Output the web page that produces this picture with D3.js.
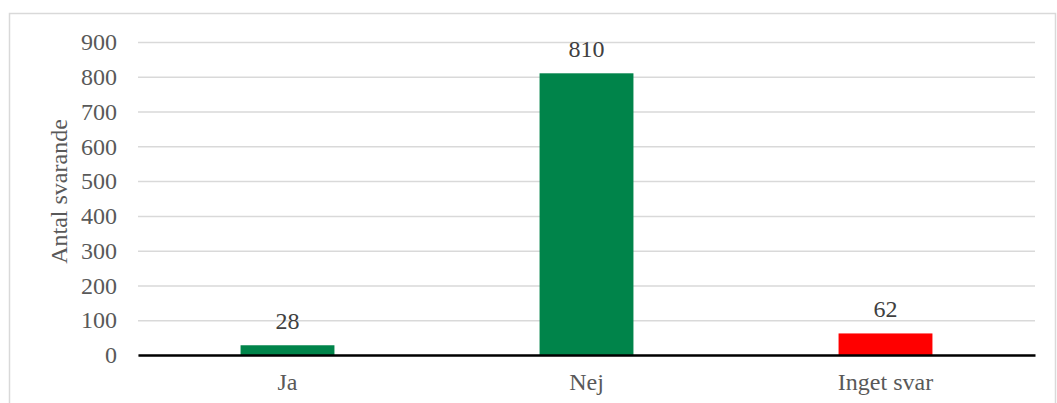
<!DOCTYPE html>
<html><head><meta charset="utf-8">
<script src="https://cdn.jsdelivr.net/npm/d3@7"></script>
<style>body{margin:0;background:#fff}svg{display:block}</style>
</head><body>
<script>
const categories = ["Ja", "Nej", "Inget svar"];
const values = [28, 810, 62];
const colors = ["#00844a", "#00844a", "#ff0000"];
const yTicks = [0, 100, 200, 300, 400, 500, 600, 700, 800, 900];
const yTitle = "Antal svarande";

const W = 1057, H = 403;
const svg = d3.select("body").append("svg").attr("width", W).attr("height", H);
const font = "'Liberation Serif', 'Times New Roman', serif";
const fs = 24;

svg.append("rect").attr("x", 9.5).attr("y", 13.5).attr("width", 1046).attr("height", 400)
  .attr("fill", "#fff").attr("stroke", "#d9d9d9").attr("stroke-width", 1.5);

const m = {left: 138, right: 1035, top: 42, bottom: 355};
const x = d3.scaleBand().domain(categories).range([m.left, m.right]).paddingInner(0.686).paddingOuter(0.343);
const y = d3.scaleLinear().domain([0, 900]).range([m.bottom, m.top]);

// gridlines
const yAxis = d3.axisLeft(y).tickValues(yTicks).tickSize(-(m.right - m.left)).tickPadding(21);
const gy = svg.append("g").attr("transform", `translate(${m.left},0)`).call(yAxis);
gy.select(".domain").remove();
gy.selectAll(".tick line").attr("stroke", "#d9d9d9").attr("stroke-width", 1.5);
gy.selectAll(".tick text").attr("font-family", font).attr("font-size", fs).attr("fill", "#595959");

// bars
svg.append("g").selectAll("rect").data(values).join("rect")
  .attr("x", (d, i) => x(categories[i]))
  .attr("width", x.bandwidth())
  .attr("y", d => y(d))
  .attr("height", d => y(0) - y(d))
  .attr("fill", (d, i) => colors[i]);

// data labels
svg.append("g").selectAll("text").data(values).join("text")
  .attr("x", (d, i) => x(categories[i]) + x.bandwidth() / 2)
  .attr("y", d => y(d) - 16)
  .attr("text-anchor", "middle")
  .attr("font-family", font).attr("font-size", fs).attr("fill", "#404040")
  .text(d => d);

// x axis
const xAxis = d3.axisBottom(x).tickSize(0).tickPadding(18);
const gx = svg.append("g").attr("transform", `translate(0,${y(0)})`).call(xAxis);
gx.select(".domain").attr("stroke", "#000").attr("stroke-width", 2.5);
gx.selectAll(".tick text").attr("font-family", font).attr("font-size", fs).attr("fill", "#595959");

// y title
svg.append("text")
  .attr("transform", `translate(67,${(m.top + m.bottom) / 2 - 7}) rotate(-90)`)
  .attr("text-anchor", "middle")
  .attr("font-family", font).attr("font-size", fs).attr("fill", "#595959")
  .text(yTitle);
</script>
</body></html>
